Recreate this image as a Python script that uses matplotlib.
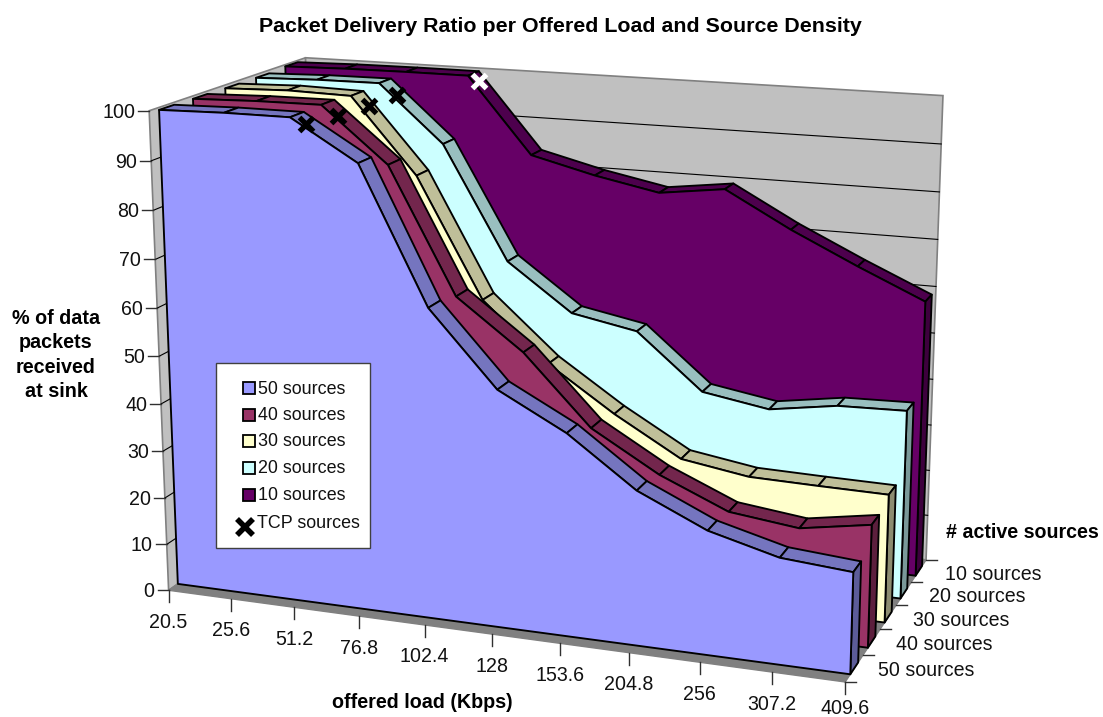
import numpy as np
import matplotlib
matplotlib.use('Agg')
import matplotlib.pyplot as plt
from matplotlib.patches import Polygon, Rectangle

plt.rcParams['font.family'] = ['Liberation Sans', 'DejaVu Sans']

offered_load = ['20.5', '25.6', '51.2', '76.8', '102.4', '128', '153.6', '204.8', '256', '307.2', '409.6']
series_names = ['50 sources', '40 sources', '30 sources', '20 sources', '10 sources']
pdr_50 = [99.5, 99.8, 99.8, 91.7, 64.1, 49.0, 41.7, 31.7, 25.3, 21.6, 20.5]
pdr_40 = [99.4, 99.8, 99.9, 88.7, 63.0, 52.8, 38.6, 30.5, 24.5, 22.8, 25.2]
pdr_30 = [99.3, 99.7, 99.4, 83.8, 58.9, 46.7, 37.5, 29.5, 27.3, 27.0, 26.8]
pdr_20 = [99.3, 99.7, 99.8, 87.8, 63.8, 53.9, 51.3, 39.7, 37.4, 39.6, 40.0]
pdr_10 = [99.6, 99.9, 100.0, 100.0, 83.8, 80.4, 77.7, 79.5, 72.0, 65.4, 59.2]
all_pdr = [pdr_50, pdr_40, pdr_30, pdr_20, pdr_10]
# TCP marks, position along the load axis and value
tcp_load = [2.13, 2.15, 2.18, 2.19, 3.09]
tcp_pdr = [98.1, 97.3, 97.0, 97.0, 98.4]
tcp_colors = ['black', 'black', 'black', 'black', 'white']

front_colors = ['#9999FF', '#993366', '#FFFFCC', '#CCFFFF', '#660066']
top_colors = ['#7575BF', '#73264D', '#BFBF99', '#99BFBF', '#4D004D']
end_colors = ['#5C5C99', '#5C1F3D', '#8C8C70', '#7A9999', '#3D003D']

# fit the camera of the 3d box: (load, depth, value) fractions -> pixel
anchors = [
    (0, 0, 0, 169.3, 590), (1, 0, 0, 845, 681), (1, 1, 0, 926, 560),
    (0, 0, 1, 150, 110), (0, 1, 1, 305, 58), (1, 1, 1, 944, 95),
    (1, .2, 0, 863, 654), (1, .4, 0, 880, 629), (1, .6, 0, 897, 605), (1, .8, 0, 913, 581),
    (.1, 0, 0, 230.7, 598), (.2, 0, 0, 294.3, 606.7), (.3, 0, 0, 358.9, 616.5), (.4, 0, 0, 425, 625.8),
    (.5, 0, 0, 491.5, 634.4), (.6, 0, 0, 559.3, 643.7), (.7, 0, 0, 628.9, 653.4), (.8, 0, 0, 699.5, 663), (.9, 0, 0, 771, 673),
    (0, 0, .9, 151.7, 161), (0, 0, .8, 153.3, 210), (0, 0, .7, 155, 259.3), (0, 0, .6, 157, 308), (0, 0, .5, 158.5, 356.3), (0, 0, .4, 161, 404.7), (0, 0, .1, 166.7, 544.3),
    (1, 1, .9, 941.7, 144.3), (1, 1, .8, 939.3, 191.7), (1, 1, .7, 937.3, 240), (1, 1, .6, 935, 287.3), (1, 1, .5, 933.3, 333),
]
rows = []
for x, z, y, u, v in anchors:
    rows.append([x, z, y, 1, 0, 0, 0, 0, -u*x, -u*z, -u*y, -u])
    rows.append([0, 0, 0, 0, x, z, y, 1, -v*x, -v*z, -v*y, -v])
cam = np.linalg.svd(np.array(rows))[2][-1].reshape(3, 4)
cam = cam / cam[2, 3]


def project(load, depth, value):
    # load in category steps, depth in series steps, value in percent
    h = cam @ np.array([load/10.0, depth/5.0, value/100.0, 1.0])
    return h[0]/h[2], h[1]/h[2]


fig = plt.figure(figsize=(11.03, 7.17), dpi=100)
ax = fig.add_axes([0, 0, 1, 1])
ax.set_xlim(0, 1103)
ax.set_ylim(717, 0)
ax.axis('off')

# walls and floor
wall_edge = '#808080'
ax.add_patch(Polygon([project(0, 0, 0), project(0, 5, 0), project(0, 5, 100), project(0, 0, 100)],
                     fc='#C0C0C0', ec=wall_edge, lw=1.2, zorder=0))
ax.add_patch(Polygon([project(0, 5, 0), project(10, 5, 0), project(10, 5, 100), project(0, 5, 100)],
                     fc='#C0C0C0', ec=wall_edge, lw=1.2, zorder=0))
ax.add_patch(Polygon([project(0, 0, 0), project(10, 0, 0), project(10, 5, 0), project(0, 5, 0)],
                     fc='#808080', ec=wall_edge, lw=1, zorder=0))

for val in range(10, 100, 10):
    pts = [project(0, 0, val), project(0, 5, val), project(10, 5, val)]
    ax.plot([p[0] for p in pts], [p[1] for p in pts], color='black', lw=0.8, zorder=0.5)

# the areas, back to front
line_w = 1.35
for i in range(4, -1, -1):
    vals = all_pdr[i]
    zf = i + 0.28
    zb = i + 0.72
    for j in range(10):
        quad = [project(j, zf, vals[j]), project(j+1, zf, vals[j+1]),
                project(j+1, zb, vals[j+1]), project(j, zb, vals[j])]
        ax.add_patch(Polygon(quad, fc=top_colors[i], ec='black', lw=line_w, joinstyle='round'))
    cap = [project(10, zf, vals[10]), project(10, zb, vals[10]), project(10, zb, 0), project(10, zf, 0)]
    ax.add_patch(Polygon(cap, fc=end_colors[i], ec='black', lw=line_w, joinstyle='round'))
    face = [project(j, zf, vals[j]) for j in range(11)] + [project(10, zf, 0), project(0, zf, 0)]
    ax.add_patch(Polygon(face, fc=front_colors[i], ec='black', lw=line_w, joinstyle='round'))

# ticks and labels
tick_col = '#303030'
tick_size = 14.1
for val in range(0, 101, 10):
    u, v = project(0, 0, val)
    ax.plot([u-11, u], [v, v], color=tick_col, lw=1)
    ax.text(u-14, v+1.5, str(val), ha='right', va='center', fontsize=tick_size, color='#111111')
for j, lab in enumerate(offered_load):
    u, v = project(j, 0, 0)
    ax.plot([u, u], [v, v+12], color=tick_col, lw=1)
    # last label sits right at the bottom edge
    ax.text(u, min(v+32, 708), lab, ha='center', va='center', fontsize=tick_size, color='#111111')
for i in range(6):
    u, v = project(10, i, 0)
    ax.plot([u, u+11], [v, v], color=tick_col, lw=1)
for i, name in enumerate(series_names):
    u, v = project(10, i+1, 0)
    ax.text(u+15+i, v+15, name, ha='left', va='center', fontsize=tick_size, color='#111111')

# tcp marks
for i in range(5):
    u, v = project(tcp_load[i], i+0.5, tcp_pdr[i])
    ax.plot(u, v, marker='x', ms=10.5, mew=3.8, color=tcp_colors[i], clip_on=False)

# legend
ax.add_patch(Rectangle((216, 362.7), 154, 185, fc='white', ec='#404040', lw=1, zorder=5))
legend_y = [388, 415, 441, 467.5, 495]
for i, name in enumerate(series_names):
    ax.add_patch(Rectangle((242.5, legend_y[i]-6), 12, 12, fc=front_colors[i], ec='black', lw=1.3, zorder=6))
    ax.text(258, legend_y[i]+1, name, ha='left', va='center', fontsize=12.9, color='#111111', zorder=6)
ax.plot(244.5, 527, marker='x', ms=11.5, mew=4, color='black', zorder=6)
ax.text(257, 524, 'TCP sources', ha='left', va='center', fontsize=12.9, color='#111111', zorder=6)

# titles
ax.text(560, 27, 'Packet Delivery Ratio per Offered Load and Source Density',
        ha='center', va='center', fontsize=15.4, fontweight='bold')
ax.text(56, 355, '% of data\npackets\nreceived\nat sink', ha='center', va='center', fontsize=14.2,
        fontweight='bold', linespacing=1.35)
ax.text(422.5, 703, 'offered load (Kbps)', ha='center', va='center', fontsize=14.2, fontweight='bold')
ax.text(946, 532, '# active sources', ha='left', va='center', fontsize=14.1, fontweight='bold')

fig.savefig('out.png', dpi=100)
